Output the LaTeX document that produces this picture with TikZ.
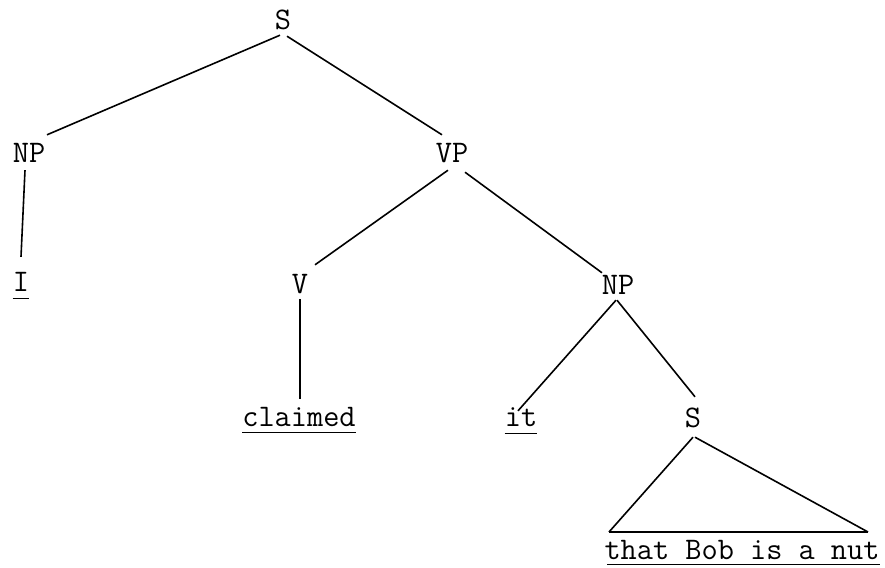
\documentclass[tikz,border=0pt]{standalone}
\usepackage{fontspec}
\usetikzlibrary{calc}
\tikzset{
  lbl/.style={inner sep=0pt, anchor=base, text height=19pt, text depth=0pt,
    font=\fontsize{31.4}{36}\selectfont\ttfamily\addfontfeatures{FakeBold=1.2}},
  edge/.style={line width=1.6pt},
  uline/.style={line width=1.4pt}
}
\begin{document}
\begin{tikzpicture}[x=1pt,y=-1pt]
\useasboundingbox (0,0) rectangle (885,567);
% nodes
\node[lbl] (S1) at (283,30) {S};
\node[lbl] (NP1) at (29,162) {NP};
\node[lbl] (VP) at (452,162) {VP};
\node[lbl] (I) at (21,291) {I};
\node[lbl] (V) at (300,293) {V};
\node[lbl] (NP2) at (618,294) {NP};
\node[lbl] (claimed) at (299,426) {claimed};
\node[lbl] (it) at (521,426) {it};
\node[lbl] (S2) at (693,427) {S};
\node[lbl] (nut) at (742,559) {that Bob is a nut};
\coordinate (triL) at (609,532);
\coordinate (triR) at (868,532);
% connectors
\draw[edge] ($(S1.south)+(-3,5)$) -- ($(NP1.north)+(18,-8)$);
\draw[edge] ($(S1.south)+(4,6)$) -- ($(VP.north)+(-10,-8)$);
\draw[edge] ($(NP1.south)+(-4,8)$) -- ($(I.north)+(0,-15)$);
\draw[edge] ($(VP.south)+(-4,8)$) -- ($(V.north)+(15,-9)$);
\draw[edge] ($(VP.south)+(13,10)$) -- ($(NP2.north)+(-16,-2)$);
\draw[edge] ($(V.south)+(0,6)$) -- ($(claimed.north)+(1,-8)$);
\draw[edge] ($(NP2.south)+(-2,6)$) -- ($(it.north)+(-3,4)$);
\draw[edge] ($(NP2.south)+(-1,6)$) -- ($(S2.north)+(2,-11)$);
\draw[edge] ($(S2.south)+(0,10)$) -- (triL);
\draw[edge] ($(S2.south)+(2,10)$) -- (triR);
\draw[edge] (triL) -- (triR);
% underlines
\draw[uline] ($(I.south west)+(0,7)$) -- ($(I.south east)+(0,7)$);
\draw[uline] ($(claimed.south west)+(0,6)$) -- ($(claimed.south east)+(0,6)$);
\draw[uline] ($(it.south west)+(0,7)$) -- ($(it.south east)+(0,7)$);
\draw[uline] ($(nut.south west)+(3,5)$) -- ($(nut.south east)+(0,5)$);
\end{tikzpicture}
\end{document}
